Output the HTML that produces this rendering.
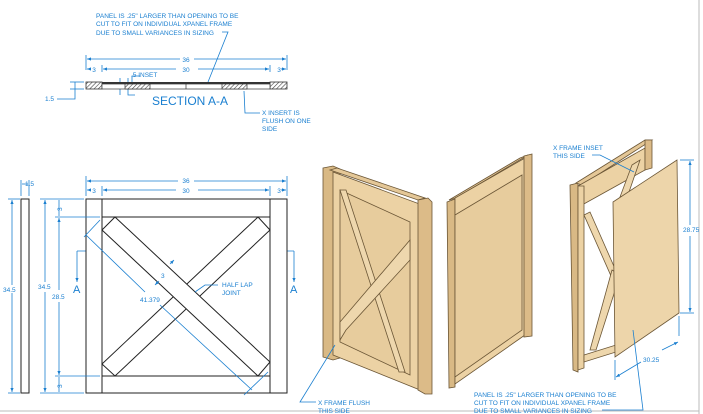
<!DOCTYPE html>
<html><head><meta charset="utf-8"><style>
html,body{margin:0;padding:0;background:#fff;}
svg{display:block;}
text{font-family:"Liberation Sans",sans-serif;fill:#1a7fd0;}
</style></head><body>
<svg width="703" height="414" viewBox="0 0 703 414" xmlns="http://www.w3.org/2000/svg">
<defs>
<pattern id="h" width="3" height="3" patternUnits="userSpaceOnUse" patternTransform="rotate(45)"><rect width="3" height="3" fill="#fff"/><line x1="0" y1="0" x2="0" y2="3" stroke="#444" stroke-width="1.2"/></pattern>
<marker id="a" viewBox="0 0 10 10" refX="10" refY="5" markerWidth="5" markerHeight="5" orient="auto-start-reverse"><path d="M0,1 L10,5 L0,9z" fill="#1a7fd0"/></marker>
</defs>
<g stroke="#bbb" fill="none"><line x1="699" y1="0" x2="699" y2="414"/><line x1="0" y1="411" x2="699" y2="411"/></g>

<!-- top notes -->
<g font-size="6.5">
<text x="96" y="18">PANEL IS .25" LARGER THAN OPENING TO BE</text>
<text x="96" y="26">CUT TO FIT ON INDIVIDUAL XPANEL FRAME</text>
<text x="96" y="35">DUE TO SMALL VARIANCES IN SIZING</text>
</g>
<g stroke="#1a7fd0" stroke-width="0.8" fill="none">
<polyline points="222,32 228,32 208,82"/>
<line x1="86" y1="55" x2="86" y2="70"/><line x1="287" y1="55" x2="287" y2="70"/>
<line x1="102" y1="65" x2="102" y2="72"/><line x1="270" y1="65" x2="270" y2="72"/>
<line x1="87" y1="59" x2="180" y2="59" marker-start="url(#a)"/><line x1="194" y1="59" x2="286" y2="59" marker-end="url(#a)"/>
<line x1="103" y1="69" x2="176" y2="69" marker-start="url(#a)"/><line x1="198" y1="69" x2="269" y2="69" marker-end="url(#a)"/>
<line x1="87" y1="69" x2="91" y2="69" marker-start="url(#a)"/><line x1="281" y1="69" x2="286" y2="69" marker-end="url(#a)"/>
<line x1="70" y1="82" x2="84" y2="82"/><line x1="70" y1="89" x2="84" y2="89"/>
<polyline points="75,82 75,99 57,99"/>
<polyline points="120,78 120,95"/><polyline points="128,78 128,95 135,95"/>
<polyline points="132,82 132,76 140,76"/>
<polyline points="244,91 245,113 260,113"/>
<line x1="77" y1="251" x2="294" y2="251"/>
<line x1="77" y1="251" x2="77" y2="282" marker-end="url(#a)"/><line x1="294" y1="251" x2="294" y2="282" marker-end="url(#a)"/>
</g>
<g font-size="6.5">
<text x="131" y="77">.5 INSET</text>
<text x="186" y="62" text-anchor="middle">36</text>
<text x="186" y="72" text-anchor="middle">30</text>
<text x="94" y="72" text-anchor="middle">3</text>
<text x="279" y="72" text-anchor="middle">3</text>
<text x="45" y="101">1.5</text>
<text x="262" y="115">X INSERT IS</text><text x="262" y="123">FLUSH ON ONE</text><text x="262" y="131">SIDE</text>
</g>
<text x="152" y="105" font-size="12">SECTION A-A</text>
<!-- section bar -->
<rect x="86" y="82" width="16" height="7" fill="url(#h)" stroke="#333" stroke-width="0.8"/>
<rect x="270" y="82" width="17" height="7" fill="url(#h)" stroke="#333" stroke-width="0.8"/>
<rect x="102" y="82" width="168" height="2" fill="#333"/>
<rect x="102" y="84" width="168" height="5" fill="#fff" stroke="#333" stroke-width="0.7"/>
<rect x="125" y="84" width="25" height="5" fill="url(#h)" stroke="#333" stroke-width="0.7"/>
<rect x="222" y="84" width="25" height="5" fill="url(#h)" stroke="#333" stroke-width="0.7"/>
<line x1="186" y1="84" x2="186" y2="89" stroke="#333" stroke-width="0.7"/>

<!-- elevation -->
<g stroke="#222" stroke-width="1" fill="#fff">
<rect x="21" y="199" width="8" height="194"/>
<rect x="86" y="199" width="201" height="194"/>
<line x1="102" y1="199" x2="102" y2="393"/><line x1="270" y1="199" x2="270" y2="393"/>
<line x1="102" y1="217" x2="270" y2="217"/><line x1="102" y1="376" x2="270" y2="376"/>
<polygon points="258,217 270,230 115,376 102,364" />
<polygon points="115,217 270,362 258,376 102,230"/>
</g>
<g stroke="#1a7fd0" stroke-width="0.8" fill="none">
<line x1="21" y1="180" x2="21" y2="196"/><line x1="29" y1="180" x2="29" y2="196"/>
<line x1="22" y1="184" x2="28" y2="184"/>
<line x1="12" y1="200" x2="12" y2="285" marker-start="url(#a)"/><line x1="12" y1="293" x2="12" y2="392" marker-end="url(#a)"/>
<line x1="8" y1="199" x2="20" y2="199"/><line x1="8" y1="393" x2="20" y2="393"/>
<line x1="40" y1="199" x2="84" y2="199"/><line x1="40" y1="393" x2="84" y2="393"/>
<line x1="55" y1="217" x2="100" y2="217"/><line x1="55" y1="376" x2="100" y2="376"/>
<line x1="45" y1="200" x2="45" y2="282" marker-start="url(#a)"/><line x1="45" y1="292" x2="45" y2="392" marker-end="url(#a)"/>
<line x1="59" y1="218" x2="59" y2="290" marker-start="url(#a)"/><line x1="59" y1="302" x2="59" y2="375" marker-end="url(#a)"/>
<line x1="59" y1="200" x2="59" y2="216"/><line x1="59" y1="377" x2="59" y2="392"/>
<line x1="86" y1="176" x2="86" y2="196"/><line x1="287" y1="176" x2="287" y2="196"/>
<line x1="102" y1="186" x2="102" y2="196"/><line x1="270" y1="186" x2="270" y2="196"/>
<line x1="87" y1="181" x2="178" y2="181" marker-start="url(#a)"/><line x1="194" y1="181" x2="286" y2="181" marker-end="url(#a)"/>
<line x1="103" y1="190" x2="176" y2="190" marker-start="url(#a)"/><line x1="198" y1="190" x2="269" y2="190" marker-end="url(#a)"/>
<line x1="87" y1="190" x2="91" y2="190" marker-start="url(#a)"/><line x1="281" y1="190" x2="286" y2="190" marker-end="url(#a)"/>
<line x1="84" y1="237" x2="100" y2="220"/><line x1="244" y1="395" x2="268" y2="372"/>
<line x1="86" y1="235" x2="145" y2="292"/><line x1="160" y1="305" x2="252" y2="390"/>
<line x1="170" y1="264" x2="174" y2="260" marker-end="url(#a)"/><line x1="159" y1="281" x2="155" y2="285" marker-end="url(#a)"/>
<polyline points="218,285 205,285 195,292"/>
</g>
<g font-size="6.5">
<text x="25" y="186">1.5</text>
<text x="3" y="292">34.5</text><text x="38" y="289">34.5</text><text x="52" y="299">28.5</text>
<text x="186" y="183" text-anchor="middle">36</text><text x="186" y="193" text-anchor="middle">30</text>
<text x="94" y="193" text-anchor="middle">3</text><text x="279" y="193" text-anchor="middle">3</text>
<text x="62" y="211" transform="rotate(-90 62 211)">3</text><text x="62" y="388" transform="rotate(-90 62 388)">3</text>
<text x="161" y="278">3</text>
<text x="140" y="302">41.379</text>
<text x="222" y="287">HALF LAP</text><text x="222" y="295">JOINT</text>
</g>
<text x="73" y="293" font-size="11">A</text><text x="290" y="293" font-size="11">A</text>

<!-- door 1 -->
<g stroke="#6b5636" stroke-width="0.8">
<polygon points="323,168 333,166 340,169 340,358 333,360 323,357" fill="#d9b985"/>
<polygon points="333,172 425,206 425,392 333,355" fill="#ecd2a4"/>
<polygon points="330,170 418,200 425,198 337,168" fill="#e4c797"/>
<polygon points="418,200 428,198 432,202 432,394 425,394 418,390" fill="#dcbb88"/>
<polygon points="340,190 410,222 410,375 340,342" fill="#e7cc9d"/>
<polygon points="340,190 346,190 405,372 399,372" fill="#eed7ad"/>
<polygon points="410,240 410,260 346,330 340,340 340,322" fill="#eed7ad"/>
</g>
<!-- door 2 -->
<g stroke="#6b5636" stroke-width="0.8">
<polygon points="447,202 455,199 455,387 449,388" fill="#d9b985"/>
<polygon points="449,200 520,158 528,155 456,198" fill="#e4c797"/>
<polygon points="455,198 525,158 525,335 455,384" fill="#ecd2a4"/>
<polygon points="455,215 522,175 522,330 455,377" fill="#e7cc9d"/>
<polygon points="524,156 532,154 532,336 524,337" fill="#dcbb88"/>
</g>
<!-- door 3 -->
<g stroke="#6b5636" stroke-width="0.8">
<polygon points="570,185 578,183 578,372 573,370" fill="#d9b985"/>
<polygon points="576,183 645,140 652,140 582,185" fill="#e4c797"/>
<polygon points="578,186 645,148 645,170 582,205" fill="#ecd2a4"/>
<polygon points="645,140 652,140 652,168 645,170" fill="#dcbb88"/>
<polygon points="578,186 584,186 584,368 578,370" fill="#ecd2a4"/>
<polygon points="584,215 590,212 620,280 615,285" fill="#eed7ad"/>
<polygon points="584,355 616,345 616,352 584,362" fill="#eed7ad"/>
<polygon points="612,270 620,275 596,350 590,350" fill="#eed7ad"/>
<polygon points="632,165 640,160 628,195 620,197" fill="#eed7ad"/>
<polygon points="613,202 677,160 679,313 615,357" fill="#edd5aa"/>
</g>
<g stroke="#1a7fd0" stroke-width="0.8" fill="none">
<polyline points="592,155 600,155 634,172"/>
<line x1="680" y1="160" x2="694" y2="160"/><line x1="680" y1="313" x2="694" y2="313"/>
<line x1="690" y1="161" x2="690" y2="225" marker-start="url(#a)"/><line x1="690" y1="236" x2="690" y2="312" marker-end="url(#a)"/>
<line x1="615" y1="360" x2="615" y2="380"/><line x1="679" y1="316" x2="679" y2="336"/>
<line x1="616" y1="377" x2="641" y2="362" marker-start="url(#a)"/><line x1="662" y1="350" x2="678" y2="342" marker-end="url(#a)"/>
<polyline points="602,410 643,410 633,330"/>
<polyline points="335,345 300,402 316,402"/>
</g>
<g font-size="6.5">
<text x="553" y="150">X FRAME INSET</text><text x="553" y="158">THIS SIDE</text>
<text x="683" y="232">28.75</text>
<text x="643" y="362">30.25</text>
<text x="474" y="397">PANEL IS .25" LARGER THAN OPENING TO BE</text>
<text x="474" y="405">CUT TO FIT ON INDIVIDUAL XPANEL FRAME</text>
<text x="474" y="413">DUE TO SMALL VARIANCES IN SIZING</text>
<text x="318" y="405">X FRAME FLUSH</text><text x="318" y="413">THIS SIDE</text>
</g>
</svg>
</body></html>
